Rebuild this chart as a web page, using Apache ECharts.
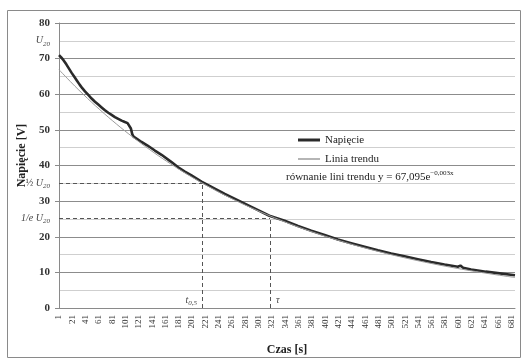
<!DOCTYPE html>
<html><head><meta charset="utf-8">
<script src="https://cdn.jsdelivr.net/npm/echarts@6/dist/echarts.min.js"></script>
<style>html,body{margin:0;padding:0;background:#fff}#c{width:526px;height:361px}</style>
</head><body><div id="c"></div>
<script>
// ---- data ----
const sampleCount = 686; // seconds 1..686
const categories = [];
for (let i = 1; i <= sampleCount; i++) categories.push(String(i));

const napiecieT = [1,4,8,12,16,20,24,28,32,36,40,45,50,55,60,65,70,75,80,85,90,95,100,104,107,109,111,113,118,125,134,145,155,169,180,190,200,215,230,250,270,290,317,340,360,380,400,420,440,460,480,500,520,540,560,580,600,604,608,620,635,638,642,660,686];
const napiecieV = [71.0,70.4,69.5,68.4,67.2,66.0,64.9,63.8,62.7,61.7,60.8,59.8,58.8,57.9,57.1,56.3,55.5,54.8,54.2,53.6,53.1,52.6,52.2,51.9,51.5,50.4,48.8,48.1,47.5,46.6,45.6,44.2,43.0,41.1,39.5,38.3,37.2,35.5,34.0,32.0,30.2,28.4,25.9,24.5,23.0,21.7,20.5,19.2,18.2,17.2,16.2,15.3,14.5,13.7,12.9,12.2,11.6,11.9,11.3,10.8,10.4,10.7,10.2,9.8,9.2];

const trendT = [1,25,50,75,100,125,150,175,200,225,250,275,300,325,350,375,400,425,450,475,500,525,550,575,600,625,650,675,686];
const trendV = [66.89,62.25,57.75,53.58,49.71,46.11,42.78,39.69,36.82,34.16,31.69,29.40,27.28,25.31,23.48,21.78,20.21,18.75,17.39,16.14,14.97,13.89,12.89,11.95,11.09,10.29,9.55,8.86,8.57];

const yTicks = [0,10,20,30,40,50,60,70,80];
const t05 = 216, tau = 318;          // seconds
const halfU = 35, invEU = 25.2, u20Level = 75; // volts

const serif = 'Liberation Serif';
const sub = {fontFamily: serif, fontStyle: 'italic', fontSize: 7, color: '#444', verticalAlign: 'bottom', lineHeight: 13};
const ital = {fontFamily: serif, fontStyle: 'italic', fontSize: 10, color: '#444', lineHeight: 13};
const plain = {fontFamily: serif, fontSize: 10, color: '#444', lineHeight: 13};

const chart = echarts.init(document.getElementById('c'), null, {renderer: 'canvas'});
chart.setOption({
  animation: false,
  backgroundColor: '#fff',
  textStyle: {fontFamily: serif},
  graphic: [{type: 'rect', shape: {x: 7.5, y: 10.5, width: 513, height: 347}, style: {fill: 'none', stroke: '#8a8a8a', lineWidth: 1}, z: -1}],
  grid: {left: 59, right: 11, top: 23, bottom: 51.5},
  title: {
    text: 'równanie lini trendu y = 67,095e{sup|−0,003x}',
    left: 286, top: 170, padding: 0,
    textStyle: {fontFamily: serif, fontSize: 11, fontWeight: 'normal', color: '#222',
      rich: {sup: {fontFamily: serif, fontSize: 7, color: '#222', verticalAlign: 'top', lineHeight: 14}}}
  },
  legend: [
    {left: 298, top: 134.5, padding: 0, icon: 'rect', itemWidth: 22, itemHeight: 3,
     textStyle: {fontFamily: serif, fontSize: 11, color: '#222'}, data: ['Napięcie']},
    {left: 298, top: 153.5, padding: 0, icon: 'rect', itemWidth: 22, itemHeight: 1.5,
     textStyle: {fontFamily: serif, fontSize: 11, color: '#222'}, data: ['Linia trendu']}
  ],
  xAxis: {
    type: 'category', data: categories, boundaryGap: false,
    name: 'Czas [s]', nameLocation: 'middle', nameGap: 36,
    nameTextStyle: {fontFamily: serif, fontSize: 12, fontWeight: 'bold', color: '#222'},
    axisLine: {lineStyle: {color: '#8a8a8a', width: 1}},
    axisTick: {show: false},
    axisLabel: {interval: 19, rotate: 90, margin: 7, fontFamily: serif, fontSize: 9, color: '#333'},
    splitLine: {show: false}
  },
  yAxis: {
    type: 'value', min: yTicks[0], max: yTicks[yTicks.length - 1], interval: 10,
    name: 'Napięcie [V]', nameLocation: 'middle', nameGap: 31,
    nameTextStyle: {fontFamily: serif, fontSize: 12, fontWeight: 'bold', color: '#222', padding: [0, 0, 0, 20]},
    axisLine: {show: true, lineStyle: {color: '#8a8a8a', width: 1}},
    axisTick: {show: true, length: 4, lineStyle: {color: '#8a8a8a'}},
    axisLabel: {margin: 9, fontFamily: serif, fontSize: 11, fontWeight: 'bold', color: '#333'},
    splitLine: {lineStyle: {color: '#8c8c8c', width: 1.2}},
    minorTick: {show: false, splitNumber: 2},
    minorSplitLine: {show: true, lineStyle: {color: '#cfcfcf', width: 1.2}}
  },
  series: [
    {
      name: 'Napięcie', type: 'line', symbol: 'none', z: 3,
      data: napiecieT.map((t, i) => [t - 1, napiecieV[i]]),
      lineStyle: {color: '#2a2a2a', width: 2.6}, itemStyle: {color: '#2a2a2a'},
      markLine: {
        silent: true, symbol: ['none', 'none'], label: {show: false},
        lineStyle: {type: [4, 3], color: '#555', width: 1},
        data: [
          [{coord: [0, halfU]}, {coord: [t05 - 1, halfU]}],
          [{coord: [t05 - 1, 0]}, {coord: [t05 - 1, halfU]}],
          [{coord: [0, invEU]}, {coord: [tau - 1, invEU]}],
          [{coord: [tau - 1, 0]}, {coord: [tau - 1, invEU]}]
        ]
      },
      markPoint: {
        silent: true, symbol: 'circle', symbolSize: 0,
        data: [
          {coord: [0, u20Level], label: {show: true, position: 'left', distance: 9, formatter: '{i|U}{s|20}', rich: {i: ital, s: sub}}},
          {coord: [0, halfU], label: {show: true, position: 'left', distance: 9, formatter: '{p|½ }{i|U}{s|20}', rich: {p: plain, i: ital, s: sub}}},
          {coord: [0, invEU], label: {show: true, position: 'left', distance: 9, formatter: '{i|1/e U}{s|20}', rich: {i: ital, s: sub}}},
          {coord: [t05 - 1, 2.1], label: {show: true, position: 'left', distance: 5, formatter: '{i|t}{s|0,5}', rich: {i: ital, s: sub}}},
          {coord: [tau - 1, 2.1], label: {show: true, position: 'right', distance: 6, formatter: '{i|τ}', rich: {i: ital}}}
        ]
      }
    },
    {
      name: 'Linia trendu', type: 'line', symbol: 'none', smooth: 0.3, z: 4,
      data: trendT.map((t, i) => [t - 1, trendV[i]]),
      lineStyle: {color: '#9c9c9c', width: 1}, itemStyle: {color: '#9c9c9c'}
    }
  ]
});
</script>
</body></html>
